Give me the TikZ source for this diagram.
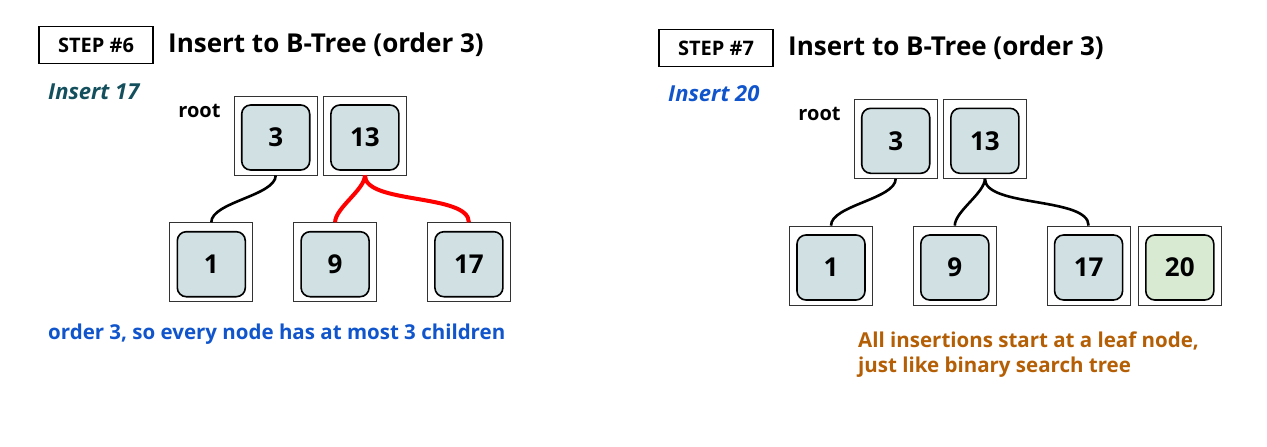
\documentclass[tikz,border=0pt]{standalone}
\usepackage{fontspec}
\setmainfont{Open Sans}
\usetikzlibrary{positioning}

\definecolor{keyfill}{HTML}{D0E0E3}
\definecolor{newfill}{HTML}{D9EAD3}
\definecolor{tealtxt}{HTML}{134F5C}
\definecolor{bluetxt}{HTML}{1155CC}
\definecolor{orangetxt}{HTML}{B45F06}

\begin{document}
\begin{tikzpicture}[
  x=1pt, y=-1pt,
  font=\bfseries,
  stepbox/.style={draw, line width=1.2pt, minimum width=114pt, minimum height=37pt,
    inner sep=0pt, font=\fontsize{20}{24}\selectfont\bfseries},
  title/.style={anchor=west, inner sep=0pt, font=\fontsize{26}{30}\selectfont\bfseries},
  cell/.style={draw, black!80, line width=0.8pt, minimum width=83pt, minimum height=79pt,
    inner sep=0pt},
  key/.style={draw, line width=1.6pt, rounded corners=9pt, fill=keyfill,
    minimum width=68pt, minimum height=65pt, inner sep=0pt,
    font=\fontsize{26}{30}\selectfont\bfseries},
  newkey/.style={key, fill=newfill},
  link/.style={line width=2.6pt, out=-90, in=90, looseness=0.65},
  hot/.style={link, red, line width=4pt},
  note/.style={anchor=west, inner sep=0pt, align=left,
    font=\fontsize{20.5}{25}\selectfont\bfseries}
]
  \useasboundingbox (0,0) rectangle (1267,447);

  % step 6
  \node[stepbox] (s6) at (96,45) {STEP \#6};
  \node[title] (t6) at (168,45) {Insert to B-Tree (order 3)};
  \node[note, text=tealtxt, font=\fontsize{22}{26}\selectfont\bfseries\itshape]
    (i6) at (48,92) {Insert 17};
  \node[font=\fontsize{20}{24}\selectfont\bfseries] (root6) at (199.5,110.5) {root};

  \node[cell] (a3) at (275.7,135.5) {};
  \node[cell, right=5.4pt of a3] (a13) {};
  \node[cell] (a1) at (211.3,262.2) {};
  \node[cell, right=40pt of a1] (a9) {};
  \node[cell, right=50pt of a9] (a17) {};

  \node[key] (k3) at ([yshift=-2pt]a3.center) {3};
  \node[key] (k13) at ([yshift=-2pt]a13.center) {13};
  \node[key] (k1) at ([yshift=-2pt]a1.center) {1};
  \node[key] (k9) at ([yshift=-2pt]a9.center) {9};
  \node[key] (k17) at ([yshift=-2pt]a17.center) {17};

  \draw[link] (a3.south) to (a1.north);
  \draw[hot] (a13.south) to (a9.north);
  \draw[hot] (a13.south) to (a17.north);

  \node[note, text=bluetxt] (n6) at (48,334)
    {order 3, so every node has at most 3 children};

  % step 7
  \node[stepbox] (s7) at (716,48.3) {STEP \#7};
  \node[title] (t7) at (788,48) {Insert to B-Tree (order 3)};
  \node[note, text=bluetxt, font=\fontsize{22}{26}\selectfont\bfseries\itshape]
    (i7) at (668,94) {Insert 20};
  \node[font=\fontsize{20}{24}\selectfont\bfseries] (root7) at (819.5,114) {root};

  \node[cell] (b3) at (895.7,138.8) {};
  \node[cell, right=5.4pt of b3] (b13) {};
  \node[cell] (b1) at (831,265.5) {};
  \node[cell, right=40pt of b1] (b9) {};
  \node[cell, right=50pt of b9] (b17) {};
  \node[cell, right=7.4pt of b17] (b20) {};

  \node[key] (m3) at ([yshift=-2pt]b3.center) {3};
  \node[key] (m13) at ([yshift=-2pt]b13.center) {13};
  \node[key] (m1) at ([yshift=-2pt]b1.center) {1};
  \node[key] (m9) at ([yshift=-2pt]b9.center) {9};
  \node[key] (m17) at ([yshift=-2pt]b17.center) {17};
  \node[newkey] (m20) at ([yshift=-2pt]b20.center) {20};

  \draw[link] (b3.south) to (b1.north);
  \draw[link] (b13.south) to (b9.north);
  \draw[link] (b13.south) to (b17.north);

  \node[note, text=orangetxt] (n7) at (858,354.5)
    {All insertions start at a leaf node,\\just like binary search tree};
\end{tikzpicture}
\end{document}
